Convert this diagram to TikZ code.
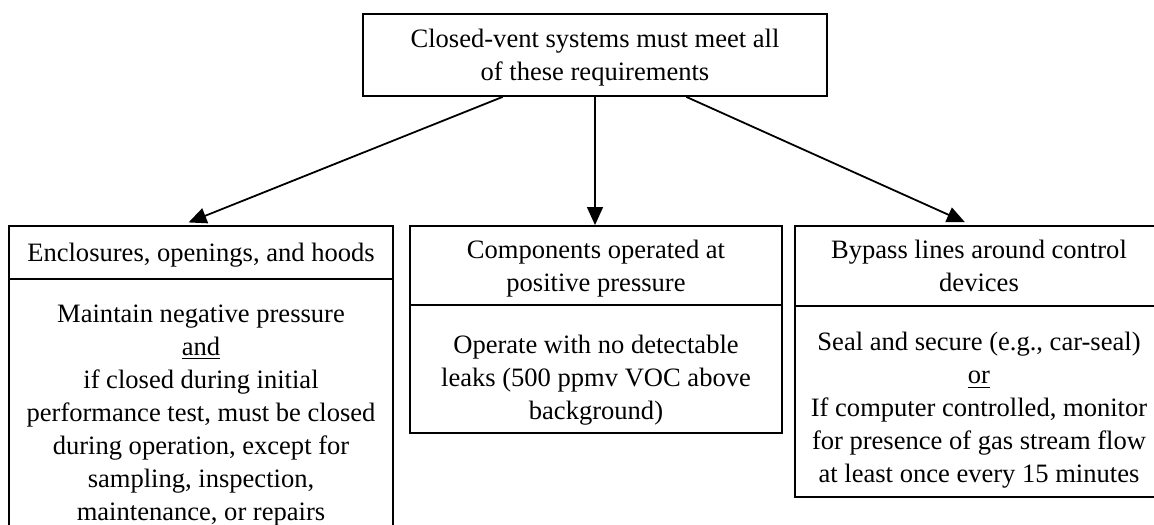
\documentclass[tikz,border=0pt]{standalone}
\usepackage{fontspec}
\setmainfont{Liberation Serif}
\usetikzlibrary{arrows.meta,calc}
\newcommand{\pxu}{0.418pt}
\begin{document}
\begin{tikzpicture}[x=0.418pt,y=-0.418pt,
  box/.style 2 args={draw,line width=0.75pt,inner sep=0pt,align=center,
              minimum width=#1*\pxu,minimum height=#2*\pxu,text depth=0pt,
              font=\fontsize{11.1}{13.8}\selectfont},
  txt/.style={align=center,inner sep=0pt,font=\fontsize{11.1}{13.8}\selectfont},
  link/.style={line width=0.75pt,-{Triangle[length=7.5pt,width=6.6pt]}}]
\useasboundingbox (0,0) rectangle (1154,525);

% root
\node[box={464}{82}] (top) at (595,55) {Closed-vent systems must meet all\\of these requirements};

% three requirement columns: header and body boxes
\node[box={384}{53}]  (enc)      at (201,252.5) {Enclosures, openings, and hoods};
\node[box={384}{266}] (encbody)  at (201,412) {};
\node[box={372}{79}]  (comp)     at (596,265.5) {Components operated at\\positive pressure};
\node[box={372}{128}] (compbody) at (596,369) {};
\node[box={368}{80}]  (byp)      at (979,266) {Bypass lines around control\\devices};
\node[box={368}{191}] (bypbody)  at (979,401.5) {};

% body texts
\node[txt,anchor=north] (enctext) at (201,304)
  {Maintain negative pressure\\\underline{and}\\if closed during initial\\performance test, must be closed\\during operation, except for\\sampling, inspection,\\maintenance, or repairs};
\node[txt,anchor=north] (comptext) at (596,335)
  {Operate with no detectable\\leaks (500 ppmv VOC above\\background)};
\node[txt,anchor=north] (byptext) at (979,332)
  {Seal and secure (e.g., car-seal)\\\underline{or}\\If computer controlled, monitor\\for presence of gas stream flow\\at least once every 15 minutes};

% connectors
\draw[link,shorten >=3pt] ($(top.south west)!0.3017!(top.south east)$) -- ($(enc.north west)!0.4505!(enc.north east)$);
\draw[link] (top.south) -- (top.south |- comp.north);
\draw[link,shorten >=3pt] ($(top.south west)!0.6961!(top.south east)$) -- ($(byp.north west)!0.4796!(byp.north east)$);
\end{tikzpicture}
\end{document}
